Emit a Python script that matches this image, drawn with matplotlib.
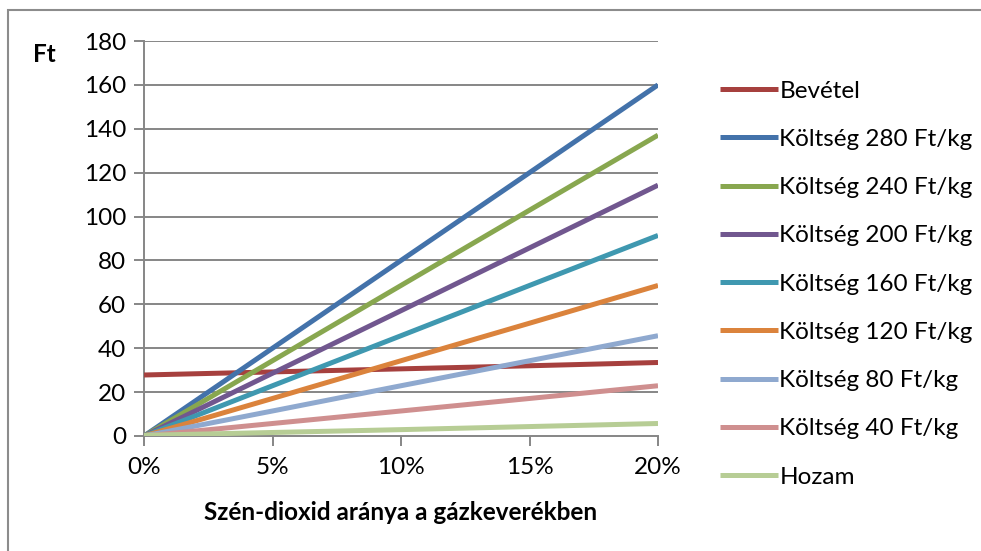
import numpy as np
import matplotlib.pyplot as plt
from matplotlib.patches import Rectangle

plt.rcParams['font.family'] = ['Lato', 'DejaVu Sans']

# CO2 share of the gas mixture (fraction)
co2Share = [0.0, 0.05, 0.10, 0.15, 0.20]

# Ft values for each series
bevetel = [27.8, 29.2, 30.6, 32.0, 33.5]
koltseg280 = [0.0, 40.0, 80.0, 120.0, 160.0]
koltseg240 = [0.0, 34.3, 68.6, 102.9, 137.1]
koltseg200 = [0.0, 28.6, 57.1, 85.7, 114.3]
koltseg160 = [0.0, 22.9, 45.7, 68.6, 91.4]
koltseg120 = [0.0, 17.1, 34.3, 51.4, 68.6]
koltseg80 = [0.0, 11.4, 22.9, 34.3, 45.7]
koltseg40 = [0.0, 5.7, 11.4, 17.1, 22.9]
hozam = [0.3, 1.6, 2.9, 4.3, 5.7]

seriesNames = ['Bevétel', 'Költség 280 Ft/kg', 'Költség 240 Ft/kg', 'Költség 200 Ft/kg',
               'Költség 160 Ft/kg', 'Költség 120 Ft/kg', 'Költség 80 Ft/kg',
               'Költség 40 Ft/kg', 'Hozam']
seriesValues = [bevetel, koltseg280, koltseg240, koltseg200, koltseg160,
                koltseg120, koltseg80, koltseg40, hozam]
seriesColors = ['#A6403E', '#4372AA', '#88A74F', '#71578F', '#3F98B0',
                '#DB833C', '#8FA9CF', '#CF8F8F', '#B7CD95']

yTicks = [0, 20, 40, 60, 80, 100, 120, 140, 160, 180]
xTicks = [0.0, 0.05, 0.10, 0.15, 0.20]
xTickLabels = ['0%', '5%', '10%', '15%', '20%']

fontSize = 17.5

W, H = 981, 551
fig = plt.figure(figsize=(W / 100, H / 100), dpi=100)
ax = fig.add_axes([144 / W, 1 - 436 / H, (658 - 144) / W, (436 - 41) / H])

gridColor = '#868686'
for yv in yTicks[1:]:
    ax.axhline(yv, color=gridColor, linewidth=1.4, zorder=1)

x = np.array(co2Share)
for name, vals, col in zip(seriesNames, seriesValues, seriesColors):
    ax.plot(x, vals, color=col, linewidth=3.6, label=name, zorder=3,
            solid_capstyle='butt')

ax.set_xlim(0, 0.20)
ax.set_ylim(0, 180)
ax.set_yticks(yTicks)
ax.set_xticks(xTicks)
ax.set_xticklabels(xTickLabels)
ax.tick_params(axis='both', colors=gridColor, labelcolor='black', labelsize=fontSize,
               width=1.4, length=7)
ax.tick_params(axis='x', pad=8)
ax.tick_params(axis='y', pad=6)

for side in ['top', 'right']:
    ax.spines[side].set_visible(False)
for side in ['left', 'bottom']:
    ax.spines[side].set_color(gridColor)
    ax.spines[side].set_linewidth(1.4)

fig.text(44 / W, 1 - 55 / H, 'Ft', fontsize=fontSize, fontweight='bold', ha='center', va='center')
fig.text(401 / W, 1 - 512 / H, 'Szén-dioxid aránya a gázkeverékben', fontsize=fontSize,
         fontweight='bold', ha='center', va='center')

# legend on the right side
ax.legend(loc='upper left', bbox_to_anchor=(710 / W, 1 - 71 / H), bbox_transform=fig.transFigure,
          frameon=False, fontsize=fontSize, handlelength=2.4, handletextpad=0.05,
          labelspacing=1.12, borderaxespad=0)

# chart area border (top and left edges visible)
fig.patches.append(Rectangle((8 / W, -0.1), 1.2, 1 - 10 / H + 0.1, transform=fig.transFigure,
                             fill=False, edgecolor='#8C8C8C', linewidth=1.5))

fig.savefig('out.png', dpi=100)
